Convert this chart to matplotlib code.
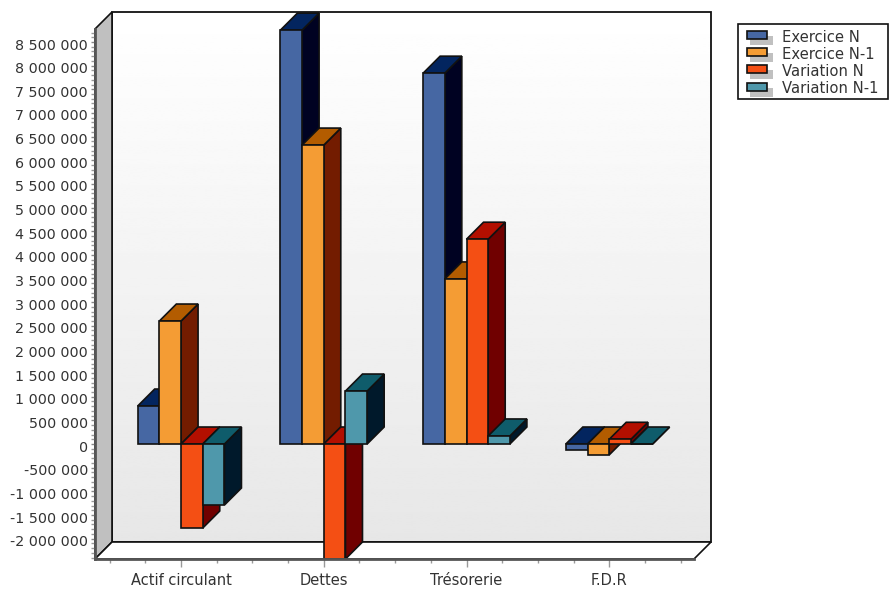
import matplotlib
matplotlib.use("Agg")
import matplotlib.pyplot as plt
import matplotlib.transforms as mtransforms
import numpy as np
from matplotlib.patches import Rectangle

# values
categories = ["Actif circulant", "Dettes", "Trésorerie", "F.D.R"]
exercice_n = [803000, 8750000, 7840000, -127000]
exercice_n1 = [2600000, 6320000, 3490000, -230000]
variation_n = [-1776000, -2431000, 4330000, 100000]
variation_n1 = [-1290000, 1120000, 170000, 0]
series_names = ["Exercice N", "Exercice N-1", "Variation N", "Variation N-1"]
y_ticks = list(range(-2000000, 8500001, 500000))

front_colors = ["#4667a3", "#f49c34", "#f44f14", "#4f98ab"]
top_colors = ["#03255f", "#b35c00", "#b30f00", "#0f5c6b"]
side_colors = ["#000222", "#731c00", "#700000", "#00192b"]

W, H = 889, 590
DEPTH = 17
BAR_W = 0.152
edge = "#111111"


def fmt(v):
    return f"{v:,}".replace(",", " ")


fig = plt.figure(figsize=(W / 100, H / 100), dpi=100, facecolor="white")
ax = fig.add_axes([95 / W, 1 - 559 / H, 599 / W, 530 / H])
ax.patch.set_visible(False)

x_min, x_max = -0.603, 3.594
y_min, y_max = -2431000, 8774000
dx = DEPTH * (x_max - x_min) / 599
dy = DEPTH * (y_max - y_min) / 530


def poly(xs, ys, fc, z, ec=edge, lw=1.2):
    ax.fill(xs, ys, facecolor=fc, edgecolor=ec, linewidth=lw, zorder=z,
            clip_on=False, joinstyle="miter")


# back wall, side wall and floor
gradient = np.linspace(1, 0.905, 256).reshape(-1, 1)
ax.imshow(gradient, cmap="gray", vmin=0, vmax=1, aspect="auto", zorder=0, clip_on=False,
          extent=[x_min + dx, x_max + dx, y_min + dy, y_max + dy])
ax.add_patch(Rectangle((x_min + dx, y_min + dy), x_max - x_min, y_max - y_min, fill=False,
                       edgecolor=edge, linewidth=1.3, zorder=1, clip_on=False))
poly([x_min, x_min + dx, x_min + dx, x_min], [y_max, y_max + dy, y_min + dy, y_min], "#c0c0c0", 1)
poly([x_min, x_min + dx, x_max + dx, x_max], [y_min, y_min + dy, y_min + dy, y_min], "white", 1)

# bars, left to right so each one hides the side of the previous
z = 2
for i in range(len(categories)):
    for j, values in enumerate([exercice_n, exercice_n1, variation_n, variation_n1]):
        left = i + (j - 2) * BAR_W
        right = left + BAR_W
        v = values[i]
        hi = max(v, 0)
        lo = min(v, 0)
        poly([right, right + dx, right + dx, right], [lo, lo + dy, hi + dy, hi], side_colors[j], z)
        poly([left, left + dx, right + dx, right], [hi, hi + dy, hi + dy, hi], top_colors[j], z)
        ax.bar(left, v, width=BAR_W, align="edge", color=front_colors[j], edgecolor=edge,
               linewidth=1.2, zorder=z, clip_on=False)
        z += 1

ax.set_xlim(x_min, x_max)
ax.set_ylim(y_min, y_max)

# axes
for name in ["top", "right"]:
    ax.spines[name].set_visible(False)
for name in ["left", "bottom"]:
    ax.spines[name].set_color("#555555")
    ax.spines[name].set_linewidth(2)
    ax.spines[name].set_zorder(40)

ax.set_yticks(y_ticks)
ax.set_yticklabels([fmt(v) for v in y_ticks])
ax.set_yticks(range(-2400000, 8700001, 100000), minor=True)
ax.set_xticks(range(len(categories)))
ax.set_xticklabels(categories)
ax.set_xticks(np.arange(-0.5, 3.51, 0.25), minor=True)
ax.tick_params(axis="y", which="major", length=3, width=1, color="#888888", pad=2,
               labelsize=10.3, labelcolor="#333333")
ax.tick_params(axis="y", which="minor", length=3, width=1, color="#999999")
ax.tick_params(axis="x", which="major", length=6, width=1, color="#999999", pad=4,
               labelsize=10.5, labelcolor="#333333")
ax.tick_params(axis="x", which="minor", length=3, width=1, color="#999999")
shift = mtransforms.ScaledTranslation(0, -1.5 / 72, fig.dpi_scale_trans)
for label in ax.get_yticklabels():
    label.set_transform(label.get_transform() + shift)

# legend with shadowed swatches, laid out in pixels
leg = fig.add_axes([0, 0, 1, 1], zorder=50)
leg.set_xlim(0, W)
leg.set_ylim(H, 0)
leg.axis("off")
leg.add_patch(Rectangle((738, 24), 150, 75, facecolor="white", edgecolor="#111111", linewidth=1.2))
for j, name in enumerate(series_names):
    y = 31 + j * 17.2
    leg.add_patch(Rectangle((750, y + 5), 23, 9, facecolor="#c0c0c0", edgecolor="none"))
    leg.add_patch(Rectangle((747, y), 20, 8, facecolor=front_colors[j], edgecolor="#111111", linewidth=1.2))
    leg.text(782, y + 6, name, fontsize=10.6, color="#333333", va="center", ha="left")

fig.savefig("out.png", dpi=100)
